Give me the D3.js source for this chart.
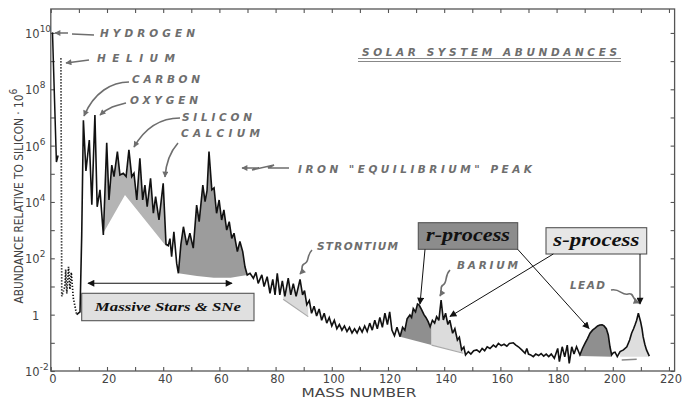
<!DOCTYPE html>
<html>
<head>
<meta charset="utf-8">
<script src="https://cdn.jsdelivr.net/npm/d3@7"></script>
<style>
  html, body { margin: 0; padding: 0; background: #fff; }
  svg { display: block; }
  .hand { font-family: "DejaVu Sans", sans-serif; font-style: italic; font-weight: bold; fill: #6e6e6e; font-size: 10.5px; }
  .tick-label { font-family: "DejaVu Sans", sans-serif; fill: #444; font-size: 11.5px; }
  .box-label { font-family: "Liberation Serif", serif; font-style: italic; font-weight: bold; fill: #111; }
</style>
</head>
<body>
<svg id="chart" width="687" height="399"></svg>
<script>
// ---- data (mass number A, log10 abundance relative to Si = 1e6) ----
const xTickValues = d3.range(0, 221, 10)
const xLabelValues = d3.range(0, 221, 20)
const yDecades = d3.range(-2, 11)
const yLabelDecades = [-2, 0, 2, 4, 6, 8, 10]

const hydrogenLine = [[0.6, 10.02], [2.0, 5.42], [2.6, 5.65]]
const heliumLithium = [[3.6, 9.1], [3.75, 5.0], [3.9, 0.65], [5.0, 1.0], [5.3, 1.6], [5.7, 0.75],
  [6.3, 1.7], [6.8, 0.9], [7.3, 1.5], [8.0, 0.6], [9.2, 0.0]]

const abundanceCurve = [
  [9.2, 0.0], [10.4, 0.1], [11.0, 2.8], [11.6, 6.9],
  [12.5, 5.1], [13.7, 6.2], [14.6, 3.9], [15.7, 7.09], [16.5, 3.83], [17.5, 4.43], [18.7, 2.83],
  [19.9, 6.1], [20.7, 4.07], [21.7, 5.31], [22.5, 4.9], [23.7, 5.79], [24.6, 4.96], [25.8, 5.02],
  [26.8, 4.9], [27.8, 5.85], [28.8, 4.9], [29.6, 5.02], [30.6, 4.07], [31.7, 5.55], [32.7, 4.07],
  [33.5, 4.6], [34.3, 3.83], [35.5, 4.84], [36.5, 3.6], [37.3, 4.19], [38.5, 3.36], [40.0, 4.66],
  [41.0, 2.5], [41.8, 2.45], [42.4, 2.7], [43.0, 2.06], [43.8, 2.94], [44.8, 1.82], [45.4, 1.47],
  [46.3, 2.5], [47.2, 3.12], [48.4, 2.47], [49.5, 2.89], [50.7, 2.36], [51.9, 3.89], [52.8, 3.3],
  [54.1, 4.6], [54.9, 4.01], [55.6, 4.4], [56.3, 5.79], [57.3, 4.43], [58.1, 4.5], [59.0, 3.6],
  [59.9, 4.07], [60.8, 3.36], [61.6, 3.72], [62.6, 3.0], [63.5, 3.3], [64.4, 2.71], [65.2, 2.89],
  [66.4, 2.24], [67.3, 2.6], [68.3, 2.24], [69.1, 1.7], [69.9, 1.41], [70.9, 1.47], [72.1, 1.29],
  [73.0, 1.5], [73.8, 1.11], [75.1, 1.41], [75.9, 1.0], [77.0, 1.35], [78.0, 0.76], [79.0, 1.25],
  [79.8, 0.7], [80.6, 1.47], [81.5, 0.7], [82.4, 1.2], [83.3, 0.65], [84.5, 1.3], [85.4, 0.7],
  [86.3, 1.1], [87.3, 0.65], [88.7, 1.25], [89.6, 0.7], [90.3, 0.85], [91.1, 0.35], [92.0, 0.5],
  [92.8, 0.05], [93.7, 0.3], [94.6, -0.05], [95.5, 0.2], [96.4, -0.2], [97.3, 0.05], [98.2, -0.3],
  [99.1, -0.1], [100.0, -0.4], [100.9, -0.2], [101.8, -0.5], [102.7, -0.35], [103.6, -0.55],
  [104.5, -0.4], [105.4, -0.6], [106.3, -0.45], [107.2, -0.65], [108.1, -0.5], [109.0, -0.65],
  [109.9, -0.45], [110.8, -0.62], [111.7, -0.4], [112.6, -0.6], [113.5, -0.3], [114.4, -0.55],
  [115.3, -0.2], [116.2, -0.5], [117.1, -0.1], [118.0, -0.45], [118.9, 0.05], [119.8, -0.35],
  [120.6, 0.1], [121.4, -0.55], [122.3, -0.75], [123.2, -0.45], [124.3, -0.78], [125.2, -0.45],
  [126.0, -0.55], [126.8, -0.15], [127.8, -0.01], [128.4, -0.1], [129.0, 0.22], [129.8, 0.1],
  [130.5, 0.38], [131.1, 0.34], [132.0, 0.17], [132.8, 0.0], [133.5, -0.1], [134.3, -0.25],
  [135.0, -0.43], [135.8, -0.2], [136.6, -0.3], [137.3, -0.07], [138.1, -0.2], [138.9, 0.52],
  [139.7, -0.19], [140.5, 0.05], [141.3, -0.35], [142.0, -0.2], [143.0, -0.66], [143.8, -0.5],
  [144.7, -0.9], [145.4, -0.8], [146.2, -1.25], [147.0, -1.15], [147.6, -1.43], [148.6, -1.31],
  [149.5, -1.4], [150.5, -1.28], [151.6, -1.25], [152.6, -1.33], [153.5, -1.2], [154.4, -1.28],
  [155.3, -1.14], [156.3, -1.2], [157.5, -1.08], [158.4, -1.15], [159.3, -1.02], [160.3, -1.1],
  [161.3, -1.05], [162.3, -1.12], [163.2, -1.02], [164.6, -1.0], [165.5, -1.08], [166.4, -1.14],
  [167.6, -1.25], [168.8, -1.37], [169.4, -1.2], [170.0, -1.4], [170.8, -1.43], [171.7, -1.49],
  [172.6, -1.4], [173.6, -1.45], [174.5, -1.38], [175.4, -1.47], [176.3, -1.4], [177.2, -1.49],
  [178.1, -1.4], [179.2, -1.55], [180.4, -1.2], [181.0, -1.67], [182.0, -1.14], [182.9, -1.5],
  [183.8, -1.08], [184.5, -1.73], [185.4, -1.14], [186.2, -1.4], [187.1, -1.14], [188.3, -1.43],
  [189.2, -1.2], [190.1, -1.02], [191.0, -0.85], [191.9, -0.66], [192.8, -0.55], [193.7, -0.48],
  [194.6, -0.4], [195.4, -0.37], [196.2, -0.36], [196.9, -0.4], [197.7, -0.5], [198.4, -0.72],
  [199.0, -1.14], [199.6, -1.43], [200.2, -1.35], [200.8, -1.33], [201.6, -1.49], [202.6, -1.31],
  [203.8, -1.25], [205.0, -1.14], [206.0, -0.9], [206.7, -0.66], [207.4, -0.5], [207.9, -0.37],
  [208.5, -0.2], [209.1, 0.05], [209.5, -0.1], [209.9, -0.25], [210.4, -0.5], [210.8, -0.78],
  [211.4, -1.05], [212.0, -1.25], [213.0, -1.47]
]

// base lines of the shaded bands (the band fills from base up to the curve)
const intermediateBase = [[18.7, 2.9], [26.4, 4.25], [41.2, 2.41]]
const ironPeakBase = [[45.4, 1.47], [52, 1.37], [58, 1.31], [64, 1.31], [69.9, 1.41]]
const strontiumBase = [[82.7, 0.55], [91.6, -0.07]]
const rProcessBaseA = [[124.3, -0.78], [135.5, -1.08]]
const sProcessBaseA = [[135.5, -1.08], [146.8, -1.37]]
const rProcessBaseB = [[188.3, -1.47], [199.6, -1.49]]
const sProcessBaseB = [[202.6, -1.49], [213.0, -1.49]]

// ---- scales ----
const svg = d3.select('#chart')
const x = d3.scaleLinear().domain([0, 222]).range([50.8, 674.6])
const y = d3.scaleLog().domain([1e-2, 10 ** 10.85]).range([371, 9])
const yTop = y.range()[1], yBottom = y.range()[0]
const px = d => x(d[0])
const py = d => y(10 ** d[1])

const defs = svg.append('defs')
function marker(id, color, w, h) {
  defs.append('marker')
    .attr('id', id).attr('viewBox', '0 0 10 10')
    .attr('refX', 9).attr('refY', 5)
    .attr('markerUnits', 'userSpaceOnUse')
    .attr('markerWidth', w).attr('markerHeight', h)
    .attr('orient', 'auto-start-reverse')
    .append('path').attr('d', 'M0,0 L10,5 L0,10 z').attr('fill', color)
}
marker('arrow-black', '#111', 9, 7)
marker('arrow-gray', '#6e6e6e', 8, 6)

// clip = everything under the abundance curve
defs.append('clipPath').attr('id', 'under-curve')
  .append('path')
  .attr('d', d3.area().x(px).y0(yBottom).y1(py)(abundanceCurve))

const bands = svg.append('g').attr('clip-path', 'url(#under-curve)')
function band(base, fill) {
  bands.append('path')
    .attr('d', d3.area().x(px).y0(py).y1(yTop)(base))
    .attr('fill', fill)
}
band(intermediateBase, '#b4b4b4')
band(ironPeakBase, '#9c9c9c')
band(strontiumBase, '#dadada')
band(rProcessBaseA, '#8f8f8f')
band(sProcessBaseA, '#dcdcdc')
band(rProcessBaseB, '#8f8f8f')
band(sProcessBaseB, '#dedede')

// soft base edges
const baseLine = d3.line().x(px).y(py)
;[strontiumBase, sProcessBaseA].forEach(b => {
  svg.append('path').attr('d', baseLine(b)).attr('fill', 'none')
    .attr('stroke', '#aaa').attr('stroke-width', 1.2)
})
svg.append('line').attr('x1', 621.7).attr('y1', 360).attr('x2', 636.7).attr('y2', 359.3)
  .attr('stroke', '#888').attr('stroke-width', 1.4)

// ---- frame and ticks ----
svg.append('rect')
  .attr('x', x.range()[0]).attr('y', yTop)
  .attr('width', x.range()[1] - x.range()[0]).attr('height', yBottom - yTop)
  .attr('fill', 'none').attr('stroke', '#555').attr('stroke-width', 1.3)

const decadeValues = yDecades.map(e => 10 ** e)
function axis(gen, transform) {
  const g = svg.append('g').attr('transform', transform).call(gen)
  g.select('.domain').remove()
  g.selectAll('line').attr('stroke', '#555').attr('stroke-width', 1.1)
  return g
}
axis(d3.axisBottom(x).tickValues(xTickValues).tickSize(-4).tickSizeOuter(0).tickFormat(''), `translate(0,${yBottom})`)
axis(d3.axisTop(x).tickValues(xTickValues).tickSize(-4).tickSizeOuter(0).tickFormat(''), `translate(0,${yTop})`)
axis(d3.axisLeft(y).tickValues(decadeValues).tickSize(-4).tickSizeOuter(0).tickFormat(''), `translate(${x.range()[0]},0)`)
axis(d3.axisRight(y).tickValues(decadeValues).tickSize(-4).tickSizeOuter(0).tickFormat(''), `translate(${x.range()[1]},0)`)

svg.append('g').selectAll('text').data(xLabelValues).join('text')
  .attr('class', 'tick-label').attr('text-anchor', 'middle')
  .attr('x', d => x(d) + 2).attr('y', 383)
  .text(d => d)

const yLab = svg.append('g').selectAll('text').data(yLabelDecades).join('text')
  .attr('class', 'tick-label').attr('font-size', 13)
  .attr('x', d => d === 0 ? 32 : 25)
  .attr('y', d => y(10 ** d) + 5)
yLab.each(function (d) {
  const t = d3.select(this)
  if (d === 0) { t.text('1'); return }
  t.append('tspan').text('10')
  t.append('tspan').attr('dy', -6).attr('font-size', 9).text(d)
})

svg.append('text').attr('class', 'tick-label')
  .attr('x', 359).attr('y', 396.5).attr('text-anchor', 'middle').attr('font-size', 10)
  .attr('textLength', 115).attr('lengthAdjust', 'spacingAndGlyphs')
  .text('MASS NUMBER')

const yTitle = svg.append('text').attr('class', 'tick-label')
  .attr('transform', 'translate(23,196) rotate(-90)')
  .attr('text-anchor', 'middle').attr('font-size', 14)
yTitle.append('tspan').text('ABUNDANCE RELATIVE TO SILICON · 10')
yTitle.append('tspan').attr('dy', -6).attr('font-size', 10).text('6')
yTitle.attr('textLength', 215).attr('lengthAdjust', 'spacingAndGlyphs')

// ---- abundance curves ----
const line = d3.line().x(px).y(py)
svg.append('path').attr('d', line(hydrogenLine))
  .attr('fill', 'none').attr('stroke', '#111').attr('stroke-width', 1.5)
svg.append('path').attr('d', line(heliumLithium))
  .attr('fill', 'none').attr('stroke', '#111').attr('stroke-width', 1.7)
  .attr('stroke-dasharray', '1.3 1.7')
svg.append('path').attr('d', line(abundanceCurve))
  .attr('fill', 'none').attr('stroke', '#111').attr('stroke-width', 1.6)
  .attr('stroke-linejoin', 'miter').attr('stroke-miterlimit', 3)

// ---- hand lettered annotations ----
const handLabels = [
  { text: 'HYDROGEN', x: 100, y: 37, w: 95 },
  { text: 'HELIUM', x: 97, y: 62, w: 78 },
  { text: 'CARBON', x: 132, y: 83, w: 68 },
  { text: 'OXYGEN', x: 130, y: 104, w: 68 },
  { text: 'SILICON', x: 182, y: 121, w: 70 },
  { text: 'CALCIUM', x: 181, y: 137, w: 79 },
  { text: 'IRON "EQUILIBRIUM" PEAK', x: 298, y: 173, w: 234 },
  { text: 'SOLAR SYSTEM ABUNDANCES', x: 362, y: 56, w: 255 },
  { text: 'STRONTIUM', x: 317, y: 250, w: 81 },
  { text: 'BARIUM', x: 457, y: 269, w: 61 },
  { text: 'LEAD', x: 570, y: 289, w: 35 }
]
svg.append('g').selectAll('text').data(handLabels).join('text')
  .attr('class', 'hand')
  .attr('x', d => d.x).attr('y', d => d.y)
  .attr('textLength', d => d.w).attr('lengthAdjust', 'spacing')
  .text(d => d.text)

// title double underline
;[58.5, 61.5].forEach(yy => svg.append('line')
  .attr('x1', 358).attr('x2', 621).attr('y1', yy).attr('y2', yy)
  .attr('stroke', '#888').attr('stroke-width', 1.1))

const handArrows = [
  'M94,35 L72,34 M68,33 L55,33',
  'M89,60 L66,63',
  'M129,82 C112,82 94,92 84,116',
  'M126,103 C118,105 110,106 100,115',
  'M180,118 C160,118 145,128 134,147',
  'M178,143 C170,152 166,162 165,177',
  'M289,168 L268,168 L274,165 L252,170 L259,168 L242,168',
  'M312,250 C306,256 310,262 304,264 C300,266 304,270 300,274',
  'M450,270 C444,276 448,282 443,285 C439,287 443,291 440,296',
  'M611,290 C620,288 622,296 628,294 C634,292 632,300 639,303'
]
svg.append('g').selectAll('path').data(handArrows).join('path')
  .attr('d', d => d).attr('fill', 'none')
  .attr('stroke', '#6e6e6e').attr('stroke-width', 1.6)
  .attr('marker-end', 'url(#arrow-gray)')

// ---- process boxes and pointers ----
const boxes = [
  { text: 'r-process', x: 418.3, y: 222.7, w: 99.4, h: 26.6, fill: '#8c8c8c', size: 19, tw: 84 },
  { text: 's-process', x: 546, y: 227.7, w: 100.7, h: 26.3, fill: '#e6e6e6', size: 19, tw: 86 },
  { text: 'Massive Stars & SNe', x: 81.7, y: 293.3, w: 172.3, h: 27.4, fill: '#e0e0e0', size: 13.5, tw: 146 }
]
const boxG = svg.append('g').selectAll('g').data(boxes).join('g')
boxG.append('rect')
  .attr('x', d => d.x).attr('y', d => d.y).attr('width', d => d.w).attr('height', d => d.h)
  .attr('fill', d => d.fill).attr('stroke', '#555').attr('stroke-width', 1.1)
boxG.append('text').attr('class', 'box-label')
  .attr('x', d => d.x + d.w / 2).attr('y', d => d.y + d.h / 2 + d.size * 0.28)
  .attr('text-anchor', 'middle').attr('font-size', d => d.size)
  .attr('textLength', d => d.tw).attr('lengthAdjust', 'spacingAndGlyphs')
  .text(d => d.text)

const pointers = [
  [425, 249.3, 420, 304],
  [517.7, 249.3, 589, 328.5],
  [553.3, 254, 450, 316.5],
  [640, 254, 640, 304]
]
svg.append('g').selectAll('line').data(pointers).join('line')
  .attr('x1', d => d[0]).attr('y1', d => d[1]).attr('x2', d => d[2]).attr('y2', d => d[3])
  .attr('stroke', '#111').attr('stroke-width', 1)
  .attr('marker-end', 'url(#arrow-black)')

svg.append('line').attr('x1', 88).attr('y1', 283.3).attr('x2', 232).attr('y2', 283.3)
  .attr('stroke', '#111').attr('stroke-width', 1.1)
  .attr('marker-start', 'url(#arrow-black)').attr('marker-end', 'url(#arrow-black)')
</script>
</body>
</html>
